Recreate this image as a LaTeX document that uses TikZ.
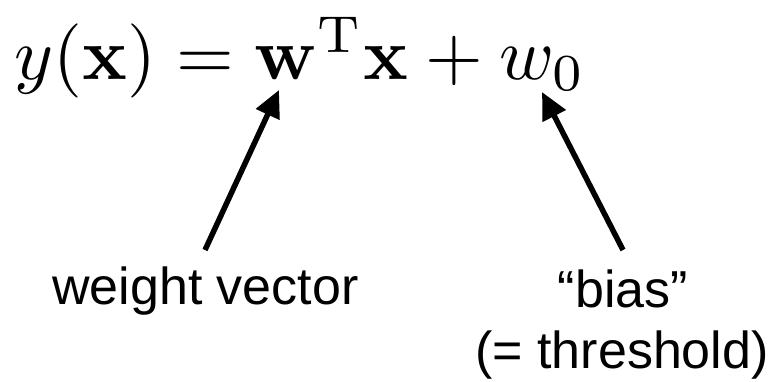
\documentclass[tikz,border=0pt]{standalone}
\usepackage[no-math]{fontspec}
\setmainfont{Liberation Sans}
\usepackage{graphicx}
\usetikzlibrary{arrows.meta}
\tikzset{
  lbl/.style={inner sep=0pt, font=\fontsize{52}{60}\selectfont},
  ptr/.style={line width=5.5pt, -{Triangle[length=27pt,width=25pt]}}
}
\begin{document}
\begin{tikzpicture}[x=1pt,y=-1pt]
\useasboundingbox (0,0) rectangle (774,381);
\node[inner sep=0pt, anchor=base west] (eq) at (14,79) {\scalebox{7.42}{$y(\mathbf{x}) = \mathbf{w}^{\mathrm{T}}\mathbf{x} + w_0$}};
\node[lbl, anchor=base west] (wv) at (52,304) {weight vector};
\node[lbl, anchor=base] (bias) at (623,307) {“bias”};
\node[lbl, anchor=base] (thr) at (622,368) {(= threshold)};
\coordinate (t1) at (279,90);
\coordinate (s1) at (205,250);
\coordinate (t2) at (542,92);
\coordinate (s2) at (623,250);
\draw[ptr] (s1) -- (t1);
\draw[ptr] (s2) -- (t2);
\end{tikzpicture}
\end{document}
